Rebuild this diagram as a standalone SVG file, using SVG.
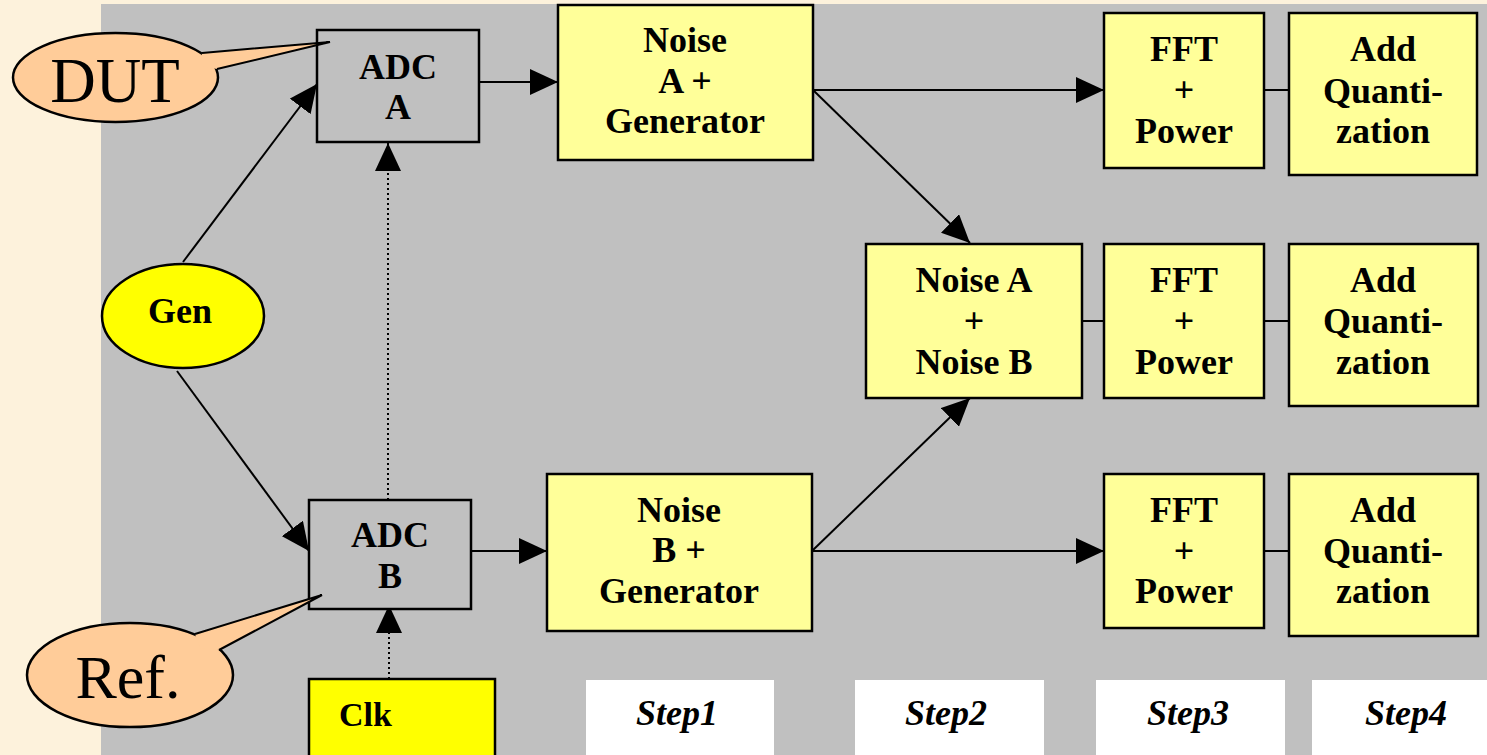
<svg xmlns="http://www.w3.org/2000/svg" width="1487" height="755" viewBox="0 0 1487 755">
<style>
.box{fill:#FFFF99;stroke:#000;stroke-width:2.5}
.adc{fill:#C0C0C0;stroke:#000;stroke-width:2.5}
.t{font-family:"Liberation Serif","Times New Roman",serif;font-weight:bold;font-size:36px;fill:#000;text-anchor:middle}
.big{font-family:"Liberation Serif","Times New Roman",serif;font-size:63px;fill:#000;text-anchor:middle}
.step{font-family:"Liberation Serif","Times New Roman",serif;font-weight:bold;font-style:italic;font-size:36px;fill:#000;text-anchor:middle}
.c{stroke:#000;stroke-width:2;fill:none}
.d{stroke:#000;stroke-width:2;fill:none;stroke-dasharray:2,3}
.bub{fill:#FFCC99;stroke:#000;stroke-width:2.5}
</style>
<defs>
<marker id="ah" markerWidth="28" markerHeight="26" refX="28" refY="13" orient="auto" markerUnits="userSpaceOnUse">
<path d="M0,0 L28,13 L0,26 z" fill="#000"/>
</marker>
</defs>
<rect x="0" y="0" width="1487" height="755" fill="#FDF2DC"/>
<rect x="101" y="4" width="1386" height="751" fill="#C0C0C0"/>

<g id="steps">
<rect x="586" y="680" width="188" height="75" fill="#fff"/>
<text class="step" x="677" y="725">Step1</text>
<rect x="855" y="680" width="189" height="75" fill="#fff"/>
<text class="step" x="946" y="725">Step2</text>
<rect x="1096" y="680" width="189" height="75" fill="#fff"/>
<text class="step" x="1188" y="725">Step3</text>
<rect x="1312" y="680" width="175" height="75" fill="#fff"/>
<text class="step" x="1406" y="725">Step4</text>
</g>

<g id="connectors">
<path class="c" d="M479,82 L558,82" marker-end="url(#ah)"/>
<path class="c" d="M468,551 L547,551" marker-end="url(#ah)"/>
<path class="c" d="M183,262 L317,84" marker-end="url(#ah)"/>
<path class="c" d="M177,371 L309,551" marker-end="url(#ah)"/>
<path class="d" d="M389,679 L389,605" marker-end="url(#ah)"/>
<path class="d" d="M388,500 L388,143" marker-end="url(#ah)"/>
<path class="c" d="M813,90 L1104,90" marker-end="url(#ah)"/>
<path class="c" d="M813,90 L970,243" marker-end="url(#ah)"/>
<path class="c" d="M812,551 L970,398" marker-end="url(#ah)"/>
<path class="c" d="M812,551 L1104,551" marker-end="url(#ah)"/>
<path class="c" d="M1078,321 L1104,321"/>
<path class="c" d="M1264,90 L1289,90"/>
<path class="c" d="M1264,321 L1289,321"/>
<path class="c" d="M1264,551 L1289,551"/>
</g>

<g id="adcA">
<rect class="adc" x="317" y="30" width="162" height="112"/>
<text class="t" x="398" y="79">ADC</text>
<text class="t" x="398" y="119">A</text>
</g>
<g id="adcB">
<rect class="adc" x="309" y="500" width="162" height="109"/>
<text class="t" x="390" y="547">ADC</text>
<text class="t" x="390" y="588">B</text>
</g>
<g id="gen">
<ellipse cx="183" cy="316" rx="81" ry="52" fill="#FFFF00" stroke="#000" stroke-width="2.5"/>
<text class="t" x="180" y="323">Gen</text>
</g>
<g id="clk">
<rect x="309" y="679" width="186" height="80" fill="#FFFF00" stroke="#000" stroke-width="2.5"/>
<text class="t" x="339" y="726" style="text-anchor:start;font-size:34px">Clk</text>
</g>
<g id="noiseA">
<rect class="box" x="558" y="5" width="255" height="155"/>
<text class="t" x="685" y="52">Noise</text>
<text class="t" x="685" y="93">A +</text>
<text class="t" x="685" y="133">Generator</text>
</g>
<g id="noiseB">
<rect class="box" x="547" y="474" width="265" height="157"/>
<text class="t" x="679" y="522">Noise</text>
<text class="t" x="679" y="562">B +</text>
<text class="t" x="679" y="603">Generator</text>
</g>
<g id="noiseAB">
<rect class="box" x="866" y="244" width="216" height="154"/>
<text class="t" x="974" y="292">Noise A</text>
<text class="t" x="974" y="333">+</text>
<text class="t" x="974" y="374">Noise B</text>
</g>
<g id="fft1">
<rect class="box" x="1104" y="13" width="160" height="155"/>
<text class="t" x="1184" y="61">FFT</text>
<text class="t" x="1184" y="102">+</text>
<text class="t" x="1184" y="143">Power</text>
</g>
<g id="add1">
<rect class="box" x="1289" y="13" width="188" height="162"/>
<text class="t" x="1383" y="61">Add</text>
<text class="t" x="1383" y="103">Quanti-</text>
<text class="t" x="1383" y="143">zation</text>
</g>
<g id="fft2">
<rect class="box" x="1104" y="244" width="160" height="154"/>
<text class="t" x="1184" y="292">FFT</text>
<text class="t" x="1184" y="333">+</text>
<text class="t" x="1184" y="374">Power</text>
</g>
<g id="add2">
<rect class="box" x="1289" y="244" width="189" height="162"/>
<text class="t" x="1383" y="292">Add</text>
<text class="t" x="1383" y="333">Quanti-</text>
<text class="t" x="1383" y="374">zation</text>
</g>
<g id="fft3">
<rect class="box" x="1104" y="474" width="160" height="154"/>
<text class="t" x="1184" y="522">FFT</text>
<text class="t" x="1184" y="563">+</text>
<text class="t" x="1184" y="603">Power</text>
</g>
<g id="add3">
<rect class="box" x="1289" y="474" width="189" height="162"/>
<text class="t" x="1383" y="522">Add</text>
<text class="t" x="1383" y="563">Quanti-</text>
<text class="t" x="1383" y="603">zation</text>
</g>

<g id="dut">
<ellipse class="bub" cx="115.5" cy="77.5" rx="102.5" ry="44.5"/>
<polygon points="202,53 330,42 217,69 200,66" fill="#FFCC99"/>
<polyline class="c" points="202,53 330,42 217,69" stroke-width="2.5" stroke-linejoin="miter"/>
<text class="big" x="115" y="102">DUT</text>
</g>
<g id="ref">
<ellipse class="bub" cx="130" cy="675" rx="103" ry="52"/>
<polygon points="195,634 322,595 219,650 200,648" fill="#FFCC99"/>
<polyline class="c" points="195,634 322,595 219,650" stroke-width="2.5"/>
<text class="big" x="128" y="698" style="font-size:62px">Ref.</text>
</g>
</svg>
